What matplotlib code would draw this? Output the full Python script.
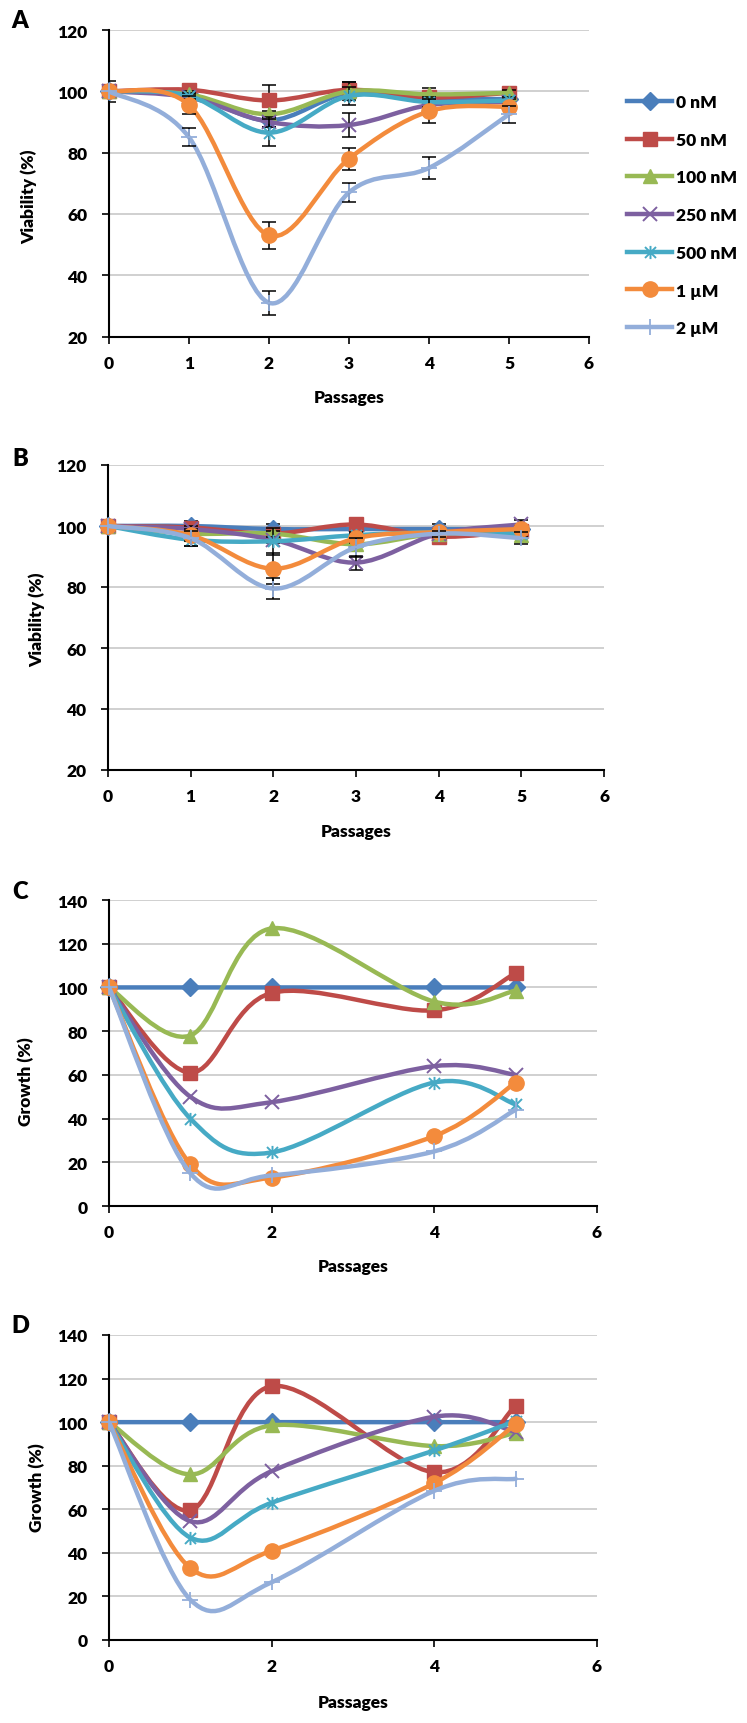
import numpy as np
import matplotlib
matplotlib.use("Agg")
import matplotlib.pyplot as plt
from matplotlib.path import Path
from matplotlib.patches import PathPatch
from matplotlib.lines import Line2D


# =====================
# DADOS
# =====================

labels = ["0 nM", "50 nM", "100 nM", "250 nM", "500 nM", "1 µM", "2 µM"]

passages_ab = [0, 1, 2, 3, 4, 5]
passages_cd = [0, 1, 2, 4, 5]

# A - viability
viab_a = [
    [100, 99, 90.5, 99.5, 97.5, 97.5],
    [100, 100.5, 97, 100.5, 98, 99.5],
    [100, 99, 92.5, 100, 99, 99.5],
    [100, 98, 90, 89, 95.5, 96.5],
    [100, 98.5, 86.5, 98.5, 96.5, 97],
    [100, 95.5, 53, 78, 93.5, 95],
    [100, 85, 31, 67, 75, 92.5],
]
err_a = [
    [3.5, 1, 2, 1, 1.5, 1.5],
    [0, 1, 5, 2.5, 1.5, 1],
    [0, 1, 1, 3, 2, 1],
    [0, 1, 1.5, 3.8, 1.5, 1],
    [0, 1, 4.5, 3, 1.5, 1],
    [0, 3, 4.3, 3.6, 3.9, 1],
    [0, 3, 4, 3, 3.7, 2.8],
]

# B - viability
viab_b = [
    [100, 100, 99, 99, 99, 99],
    [100, 99.5, 97.5, 100.5, 96.5, 98.5],
    [100, 97.5, 97.5, 94, 97.5, 97],
    [100, 99, 95.5, 88, 97.5, 100.5],
    [100, 95.5, 95, 97, 98, 97.5],
    [100, 97, 86, 96, 98, 99],
    [100, 96, 79.5, 93, 97.5, 96],
]
err_b = [
    [0, 1.5, 1.5, 1, 1.5, 1],
    [0, 1, 1, 1, 1.5, 1],
    [0, 1, 1, 1, 1, 1],
    [0, 1, 1, 2.3, 1, 1.5],
    [0, 2, 4.5, 1, 1, 1],
    [0, 2, 5, 1.5, 1, 1],
    [0, 2.5, 3.5, 3, 1, 2],
]

# C - growth
growth_c = [
    [100, 100, 100, 100, 100],
    [100, 61, 97.5, 89.5, 106.5],
    [100, 78, 127, 93.5, 98.5],
    [100, 50, 47.5, 64, 60],
    [100, 40, 24.5, 56.5, 46.5],
    [100, 19, 13, 32, 56.5],
    [100, 15, 14, 25, 44],
]

# D - growth
growth_d = [
    [100, 100, 100, 100, 100],
    [100, 59.5, 116.5, 77, 107.5],
    [100, 76, 98.5, 89, 95],
    [100, 54.5, 77.5, 102.5, 95.5],
    [100, 47, 63, 87, 100.5],
    [100, 33, 41, 72, 99],
    [100, 18.5, 26.5, 68.5, 74],
]


# =====================
# ESTILO
# =====================

plt.rcParams['font.family'] = ['Lato', 'DejaVu Sans']
plt.rcParams['font.weight'] = 'heavy'

PESO = "heavy"

cores = ["#4A7EBB", "#BE4B48", "#98B954", "#7D60A0", "#46AAC5", "#F38B3C", "#93AEDA"]

asterisco = Path(
    [(-1, -1), (1, 1), (-1, 1), (1, -1), (0, -1.2), (0, 1.2)],
    [Path.MOVETO, Path.LINETO, Path.MOVETO, Path.LINETO, Path.MOVETO, Path.LINETO],
)

marcadores = [
    dict(marker="D", ms=9),
    dict(marker="s", ms=10),
    dict(marker="^", ms=10.5),
    dict(marker="x", ms=9.5, mew=1.4),
    dict(marker=asterisco, ms=9.5, mew=1.4),
    dict(marker="o", ms=11),
    dict(marker="+", ms=11, mew=1.3),
]

W, H = 747, 1724


def retangulo(esq, dir, topo, base):
    return [esq / W, 1 - base / H, (dir - esq) / W, (base - topo) / H]


def curva_suave(xs, ys):
    # curva tipo "linha suavizada" do Excel (Catmull-Rom em Bezier)
    pts = np.column_stack([xs, ys]).astype(float)
    n = len(pts)
    verts = [pts[0]]
    codes = [Path.MOVETO]
    for i in range(n - 1):
        p0 = pts[max(i - 1, 0)]
        p1 = pts[i]
        p2 = pts[i + 1]
        p3 = pts[min(i + 2, n - 1)]
        verts += [p1 + (p2 - p0) / 6, p2 - (p3 - p1) / 6, p2]
        codes += [Path.CURVE4] * 3
    return Path(verts, codes)


def painel(ax, xs, series, erros, ymin, ymax, xstep, ylabel):

    for i, ys in enumerate(series):
        ax.add_patch(PathPatch(curva_suave(xs, ys), fill=False,
                               edgecolor=cores[i], lw=3.2,
                               capstyle="round", joinstyle="round",
                               zorder=2 + i * 0.1))
        if erros is not None:
            e = np.array(erros[i], dtype=float)
            m = e > 0
            ax.errorbar(np.array(xs)[m], np.array(ys)[m], yerr=e[m],
                        fmt="none", ecolor="black", elinewidth=1.1,
                        capsize=5, capthick=1.1, zorder=2.05 + i * 0.1)
        st = marcadores[i]
        ax.plot(xs, ys, ls="none", marker=st["marker"], ms=st["ms"],
                mew=st.get("mew", 1), color=cores[i], mec=cores[i],
                clip_on=False, zorder=2.08 + i * 0.1)

    ax.set_xlim(0, 6)
    ax.set_ylim(ymin, ymax)
    ax.set_xticks(np.arange(0, 7, xstep))
    ax.set_yticks(np.arange(ymin, ymax + 1, 20))

    ax.yaxis.grid(True, color="#C3C3C3", lw=1.1)
    ax.set_axisbelow(True)

    for lado in ["top", "right"]:
        ax.spines[lado].set_visible(False)
    for lado in ["left", "bottom"]:
        ax.spines[lado].set_linewidth(1.5)
        ax.spines[lado].set_zorder(1.5)

    ax.tick_params(axis="both", direction="out", length=5, width=1.2,
                   labelsize=12.5)
    ax.tick_params(axis="y", pad=10.5)
    ax.tick_params(axis="x", pad=8)
    for t in ax.get_xticklabels() + ax.get_yticklabels():
        t.set_fontweight(PESO)

    ax.set_xlabel("Passages", fontsize=12.5, fontweight=PESO, va="center")
    ax.set_ylabel(ylabel, fontsize=12.5, fontweight=PESO, va="center")


# =====================
# FIGURA
# =====================

fig = plt.figure(figsize=(W / 100, H / 100), dpi=100)

ax_a = fig.add_axes(retangulo(109, 589, 31, 337.5))
ax_b = fig.add_axes(retangulo(108, 604, 466, 771))
ax_c = fig.add_axes(retangulo(109, 597, 901, 1207))
ax_d = fig.add_axes(retangulo(109, 597, 1336, 1641))

painel(ax_a, passages_ab, viab_a, err_a, 20, 120, 1, "Viability (%)")
painel(ax_b, passages_ab, viab_b, err_b, 20, 120, 1, "Viability (%)")
painel(ax_c, passages_cd, growth_c, None, 0, 140, 2, "Growth (%)")
painel(ax_d, passages_cd, growth_d, None, 0, 140, 2, "Growth (%)")

# posicoes dos titulos dos eixos e letras dos paineis (em pixels)
titulos = [
    (ax_a, "A", 21, 29, 197, 398),
    (ax_b, "B", 459, 37, 620, 832),
    (ax_c, "C", 892, 26, 1082, 1267),
    (ax_d, "D", 1326, 37, 1488, 1703),
]

for ax, letra, y_letra, x_ylab, y_ylab, y_xlab in titulos:
    ax.yaxis.set_label_coords(x_ylab / W, 1 - y_ylab / H, transform=fig.transFigure)
    pos = ax.get_position()
    ax.xaxis.set_label_coords(pos.x0 + pos.width / 2, 1 - y_xlab / H,
                              transform=fig.transFigure)
    fig.text(20 / W, 1 - y_letra / H, letra, ha="center", va="center",
             fontsize=17, fontweight=PESO)


# =====================
# LEGENDA
# =====================

handles = []
for i in range(len(labels)):
    st = marcadores[i]
    handles.append(Line2D([], [], color=cores[i], lw=3.2, marker=st["marker"],
                          ms=st["ms"], mew=st.get("mew", 1), mec=cores[i]))

ax_a.legend(handles, labels, loc="upper left",
            bbox_to_anchor=(627 / W, 1 - 95 / H), bbox_transform=fig.transFigure,
            frameon=False, borderpad=0, borderaxespad=0, handlelength=2.6,
            handletextpad=0.25, labelspacing=1.25,
            prop={"size": 12.5, "weight": PESO})

fig.savefig("out.png", dpi=100)
